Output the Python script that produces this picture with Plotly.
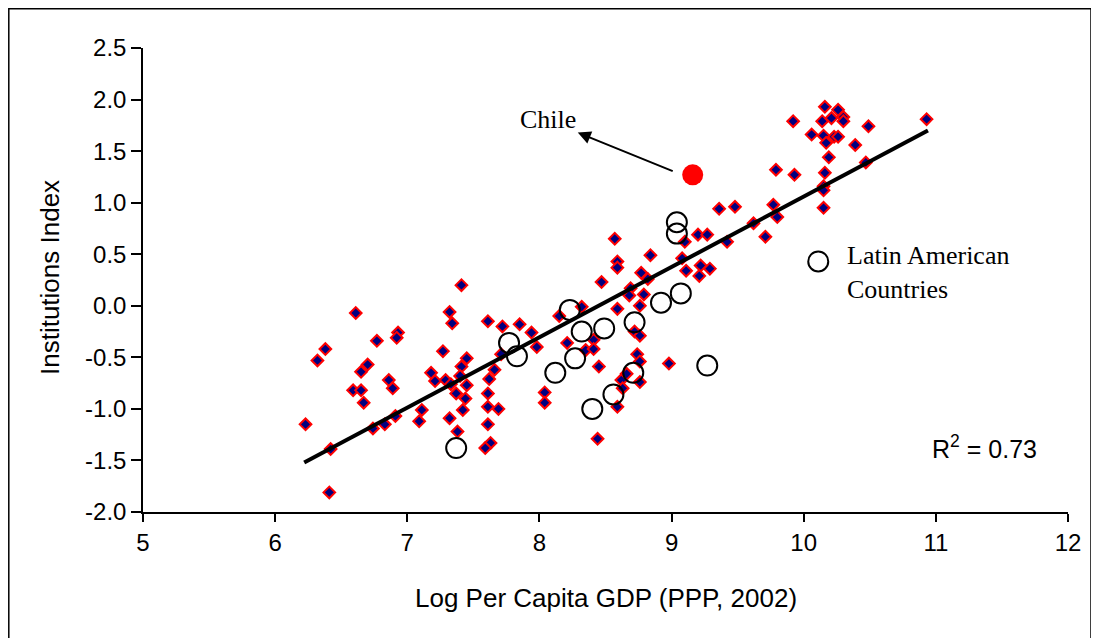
import plotly.graph_objects as go

# ---- data ----
other_x = [6.23, 6.32, 6.38, 6.42, 6.41, 6.61, 6.77, 6.93, 6.92, 6.70, 6.65, 6.86, 6.89, 6.59, 6.65, 6.67,
           6.74, 6.83, 6.91, 7.11, 7.09, 7.27, 7.18, 7.21, 7.29, 7.33, 7.32, 7.34, 7.32, 7.38, 7.45, 7.41,
           7.40, 7.37, 7.45, 7.44, 7.42, 7.41,
           7.61, 7.72, 7.85, 7.94, 7.98, 7.71, 7.66, 7.62, 7.61, 7.61, 7.69, 7.61, 7.63, 7.59, 8.04, 8.04,
           8.15, 8.32, 8.21, 8.35, 8.41, 8.41, 8.59, 8.45, 8.59, 8.44, 8.62, 8.66,
           8.57, 8.59, 8.59, 8.47,
           8.84, 8.77, 8.82, 8.69, 8.68, 8.79, 8.76, 9.10, 9.20, 9.27, 9.42, 9.71, 9.62, 9.08, 9.11, 9.22,
           9.29, 9.21, 8.72, 8.76, 8.74, 8.76, 8.76, 8.63, 8.98,
           9.36, 9.48, 9.77, 9.80, 9.79, 9.93, 9.92, 10.06, 10.16, 10.14, 10.21, 10.26, 10.30, 10.30, 10.15,
           10.17, 10.23, 10.26, 10.19, 10.16, 10.15, 10.15, 10.15, 10.39, 10.49, 10.47, 10.93]
other_y = [-1.15, -0.53, -0.42, -1.39, -1.81, -0.07, -0.34, -0.26, -0.31, -0.57, -0.64, -0.72, -0.80, -0.82, -0.82, -0.94,
           -1.19, -1.15, -1.07, -1.01, -1.12, -0.44, -0.65, -0.73, -0.72, -0.76, -0.06, -0.17, -1.09, -1.22, -0.51, -0.59,
           -0.68, -0.85, -0.77, -0.90, -1.01, 0.20,
           -0.15, -0.20, -0.18, -0.26, -0.40, -0.47, -0.62, -0.71, -0.85, -0.98, -1.00, -1.15, -1.33, -1.38, -0.84, -0.94,
           -0.10, -0.01, -0.36, -0.43, -0.33, -0.42, -0.03, -0.59, -0.98, -1.29, -0.72, -0.66,
           0.65, 0.43, 0.37, 0.23,
           0.49, 0.32, 0.26, 0.17, 0.10, 0.11, 0.00, 0.62, 0.69, 0.69, 0.62, 0.67, 0.80, 0.46, 0.34, 0.39,
           0.36, 0.29, -0.25, -0.29, -0.47, -0.54, -0.74, -0.80, -0.56,
           0.94, 0.96, 0.98, 0.86, 1.32, 1.27, 1.79, 1.66, 1.93, 1.79, 1.82, 1.90, 1.83, 1.79, 1.65,
           1.58, 1.64, 1.64, 1.44, 1.29, 1.16, 1.12, 0.95, 1.56, 1.74, 1.39, 1.81]

latam_x = [7.37, 7.77, 7.83, 8.23, 8.32, 8.49, 8.27, 8.12, 8.56, 8.40, 9.04, 9.04, 9.07, 8.92, 8.72, 9.27, 8.71]
latam_y = [-1.38, -0.36, -0.49, -0.04, -0.25, -0.22, -0.51, -0.65, -0.86, -1.00, 0.70, 0.81, 0.12, 0.03, -0.16, -0.58, -0.65]

chile_x = [9.16]
chile_y = [1.27]

fit_x = [6.22, 10.94]
fit_y = [-1.52, 1.70]

x_ticks = [5, 6, 7, 8, 9, 10, 11, 12]
y_ticks = [-2.0, -1.5, -1.0, -0.5, 0.0, 0.5, 1.0, 1.5, 2.0, 2.5]
r2_text = "R<sup>2</sup> = 0.73"
legend_pos = (10.11, 0.43)
arrow_head = (8.29, 1.68)
arrow_tail = (9.02, 1.30)

SANS = "Liberation Sans, Arial, sans-serif"
SERIF = "Liberation Serif, Times New Roman, serif"

fig = go.Figure()
fig.add_trace(go.Scatter(x=other_x, y=other_y, mode="markers",
                         marker=dict(symbol="diamond", size=9, color="#000080",
                                     line=dict(color="#FF0000", width=2)),
                         showlegend=False, hoverinfo="x+y"))
fig.add_trace(go.Scatter(x=fit_x, y=fit_y, mode="lines",
                         line=dict(color="black", width=4), showlegend=False))
fig.add_trace(go.Scatter(x=latam_x, y=latam_y, mode="markers",
                         marker=dict(symbol="circle", size=20, color="rgba(0,0,0,0)",
                                     line=dict(color="black", width=2)),
                         showlegend=False))
fig.add_trace(go.Scatter(x=chile_x, y=chile_y, mode="markers",
                         marker=dict(symbol="circle", size=21, color="#FF0000",
                                     line=dict(color="#FF0000", width=0)),
                         showlegend=False))

# page offset: the browser body has an 8px margin
OFF = 8
W, H = 1091, 630
L, R, T, B = 143 - OFF, 31, 48 - OFF, 126
pw, ph = W - L - R, H - T - B


def px2paper_x(px):
    return (px - OFF - L) / pw


def px2paper_y(py):
    return (H - B - (py - OFF)) / ph


shapes = [
    dict(type="rect", xref="paper", yref="paper",
         x0=px2paper_x(8.8), x1=px2paper_x(1091), y0=px2paper_y(645), y1=px2paper_y(8.8),
         line=dict(color="black", width=1.5), fillcolor="rgba(0,0,0,0)", layer="below"),
    dict(type="circle", xref="x", yref="y", xsizemode="pixel", ysizemode="pixel",
         xanchor=legend_pos[0], yanchor=legend_pos[1], x0=-10, x1=10, y0=-10, y1=10,
         line=dict(color="black", width=2)),
]

annotations = [
    dict(x=arrow_head[0], y=arrow_head[1], ax=arrow_tail[0], ay=arrow_tail[1],
         xref="x", yref="y", axref="x", ayref="y", text="", showarrow=True,
         arrowhead=2, arrowsize=1.3, arrowwidth=2, arrowcolor="black", standoff=0),
    dict(x=px2paper_x(548), y=px2paper_y(120), xref="paper", yref="paper", text="Chile",
         showarrow=False, font=dict(family=SERIF, size=26, color="black"),
         xanchor="center", yanchor="middle"),
    dict(x=px2paper_x(845), y=px2paper_y(272), xref="paper", yref="paper",
         text="Latin American<br>Countries", align="left",
         showarrow=False, font=dict(family=SERIF, size=26, color="black"),
         xanchor="left", yanchor="middle"),
    dict(x=px2paper_x(984), y=px2paper_y(447), xref="paper", yref="paper", text=r2_text,
         showarrow=False, font=dict(family=SANS, size=25, color="black"),
         xanchor="center", yanchor="middle"),
    dict(x=px2paper_x(50), y=px2paper_y(278), xref="paper", yref="paper", text="Institutions Index",
         textangle=-90, showarrow=False, font=dict(family=SANS, size=26, color="black"),
         xanchor="center", yanchor="middle"),
    dict(x=px2paper_x(606), y=px2paper_y(598), xref="paper", yref="paper",
         text="Log Per Capita GDP (PPP, 2002)",
         showarrow=False, font=dict(family=SANS, size=26, color="black"),
         xanchor="center", yanchor="middle"),
]

fig.update_layout(
    width=W, height=H,
    margin=dict(l=L, r=R, t=T, b=B),
    paper_bgcolor="white", plot_bgcolor="white",
    shapes=shapes, annotations=annotations,
    xaxis=dict(range=[5, 12], tickvals=x_ticks, ticktext=[str(v) for v in x_ticks],
               showgrid=False, zeroline=False, showline=True, linecolor="black", linewidth=1.5,
               ticks="outside", ticklen=8, tickwidth=1.5, tickcolor="black",
               tickfont=dict(family=SANS, size=24, color="black")),
    yaxis=dict(range=[-2.0, 2.5], tickvals=y_ticks, ticktext=[f"{v:.1f}" for v in y_ticks],
               showgrid=False, zeroline=False, showline=True, linecolor="black", linewidth=1.5,
               ticks="outside", ticklen=10, tickwidth=1.5, tickcolor="black",
               tickfont=dict(family=SANS, size=24, color="black")),
    showlegend=False,
)

fig.write_html("out.html")
